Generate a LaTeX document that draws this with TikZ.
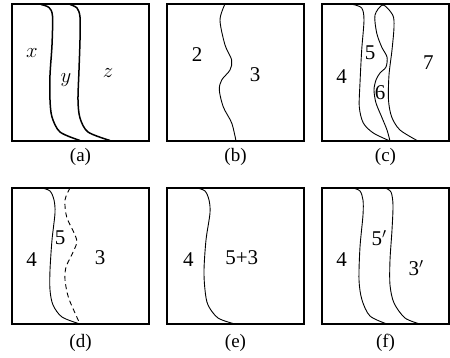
\documentclass[tikz,border=0pt]{standalone}
\usepackage{fontspec}
\setmainfont{Liberation Serif}
\begin{document}
\begin{tikzpicture}[x=1pt,y=-1pt,
  box/.style={line width=2.4pt},
  crv/.style={line width=0.9pt},
  thk/.style={line width=1.5pt},
  dsh/.style={dash pattern=on 5pt off 3.5pt},
  lbl/.style={font=\fontsize{21}{25}\selectfont, inner sep=0pt},
  sublbl/.style={font=\fontsize{19}{22}\selectfont, inner sep=0pt}]
\useasboundingbox (0,0) rectangle (450,358);
% boxes
\draw[box] (12,4) rectangle (149,141);
\draw[box] (167,4) rectangle (304,141);
\draw[box] (322,4) rectangle (449,141);
\draw[box] (12,188) rectangle (149,324);
\draw[box] (167,188) rectangle (304,324);
\draw[box] (322,188) rectangle (449,324);
% (a)
\draw[thk] plot[smooth] coordinates {(41,4.5) (49,7.5) (52.5,16) (52,45) (50,75) (50,100) (52,117) (60,132) (80,140.5)};
\draw[thk] plot[smooth] coordinates {(70,4.5) (77,8) (80,17) (80,40) (79,70) (78,100) (80,118) (88,132) (110,140.5)};
\node[lbl] (ax) at (32,53) {$x$};
\node[lbl] (ay) at (66,80) {$y$};
\node[lbl] (az) at (108,73) {$z$};
\node[sublbl] (la) at (80.5,157) {(a)};
% (b)
\draw[crv] plot[smooth] coordinates {(225,4) (220,20) (225,45) (231.7,60) (230,70) (221.7,80) (219.3,90) (223.3,107) (231.7,123) (236,141)};
\node[lbl] (b2) at (197,55) {2};
\node[lbl] (b3) at (255,75) {3};
\node[sublbl] (lb) at (235.5,157) {(b)};
% (c)
\draw[crv] plot[smooth] coordinates {(353,4.5) (361.7,8) (364,20) (361.7,50) (360,83) (359.3,107) (363.3,123) (373.3,133) (390,141)};
\draw[crv] plot[smooth] coordinates {(390,141) (387,130) (381.7,117) (376,103) (374,90) (376,80) (380,73) (386,67) (387,57) (381.7,47) (376.7,33) (375,15) (383,5) (392.7,15) (394,27) (392,50) (389,75) (388.5,100) (391.7,117) (400,130) (418,141)};
\node[lbl] (c4) at (341.7,77) {4};
\node[lbl] (c5) at (370,53) {5};
\node[lbl] (c6) at (380,93) {6};
\node[lbl] (c7) at (428.3,63) {7};
\node[sublbl] (lc) at (385.5,157) {(c)};
% (d)
\draw[crv] plot[smooth] coordinates {(42,188) (50,191) (54,200) (55,213) (52,240) (50,270) (50,290) (53,305) (62,317) (80,324)};
\draw[crv,dsh] plot[smooth] coordinates {(70,188) (65,200) (66.7,217) (75,235) (76.7,243) (71.7,255) (66,267) (65,280) (68.3,297) (75,313) (80,324)};
\node[lbl] (d5) at (60,238) {5};
\node[lbl] (d4) at (31.7,260) {4};
\node[lbl] (d3) at (100,258) {3};
\node[sublbl] (ld) at (80.5,343) {(d)};
% (e)
\draw[crv] plot[smooth] coordinates {(197,188) (205,191) (209,200) (210,213) (206,240) (204,270) (205,290) (208,305) (218,318) (235,324)};
\node[lbl] (e4) at (188.3,260) {4};
\node[lbl] (e53) at (241.7,258) {5+3};
\node[sublbl] (le) at (235.5,343) {(e)};
% (f)
\draw[crv] plot[smooth] coordinates {(353,188) (360,191) (363,200) (363,215) (360,247) (359,280) (362,300) (370,316) (387,324)};
\draw[crv] plot[smooth] coordinates {(385,188) (391,192) (393,205) (392,230) (390,260) (390,285) (394,303) (405,318) (420,324)};
\node[lbl] (f4) at (341.7,260) {4};
\node[lbl] (f5) at (379,238) {5$'$};
\node[lbl] (f3) at (416,268) {3$'$};
\node[sublbl] (lf) at (385.5,343) {(f)};
\end{tikzpicture}
\end{document}
